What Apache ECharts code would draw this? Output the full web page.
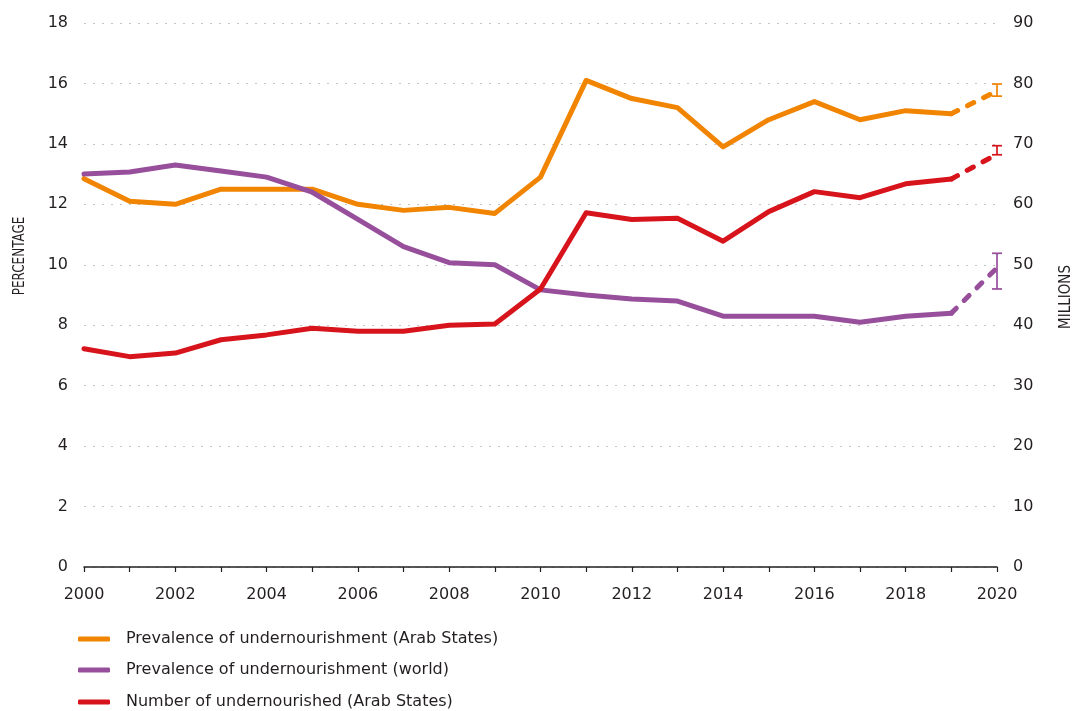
<!DOCTYPE html>
<html>
<head>
<meta charset="utf-8">
<script src="https://cdn.jsdelivr.net/npm/echarts@6/dist/echarts.min.js"></script>
<style>
  html, body { margin: 0; padding: 0; background: #fff; }
  #chart { width: 1075px; height: 711px; }
</style>
</head>
<body>
<div id="chart"></div>
<script>
// years on the x axis
var years = ['2000','2001','2002','2003','2004','2005','2006','2007','2008','2009','2010',
             '2011','2012','2013','2014','2015','2016','2017','2018','2019','2020'];

// prevalence of undernourishment, Arab States (%), 2000-2019 measured, 2019-2020 projected
var arabPrev = [12.85, 12.1, 12.0, 12.5, 12.5, 12.5, 12.0, 11.8, 11.9, 11.7, 12.9,
                16.1, 15.5, 15.2, 13.9, 14.8, 15.4, 14.8, 15.1, 15.0];
var arabPrevProj = [15.0, 15.75];

// prevalence of undernourishment, world (%)
var worldPrev = [13.0, 13.07, 13.3, 13.1, 12.9, 12.4, 11.5, 10.6, 10.07, 10.0, 9.17,
                 9.0, 8.87, 8.8, 8.3, 8.3, 8.3, 8.1, 8.3, 8.4];
var worldPrevProj = [8.4, 9.9];

// number of undernourished, Arab States (millions)
var arabNum = [36.1, 34.8, 35.4, 37.6, 38.4, 39.5, 39.0, 39.0, 40.0, 40.2, 46.0,
               58.6, 57.5, 57.7, 53.9, 58.8, 62.1, 61.1, 63.4, 64.2];
var arabNumProj = [64.2, 68.3];

// 2020 ranges [low, high]
var arabPrevRange = [15.58, 15.98];
var worldPrevRange = [9.2, 10.38];
var arabNumRange = [68.2, 69.7];

var names = ['Prevalence of undernourishment (Arab States)',
             'Prevalence of undernourishment (world)',
             'Number of undernourished (Arab States)'];

var cOrange = '#F18400', cPurple = '#974F9C', cRed = '#D7141C';
var font = 'DejaVu Sans';
var ink = '#231f20';

// pad projection arrays so they sit at the end of the axis
function proj(vals) {
    var out = [];
    for (var i = 0; i < years.length - vals.length; i++) out.push('-');
    return out.concat(vals);
}

function lineSeries(name, data, color, axis, dashed) {
    return {
        name: name,
        type: 'line',
        yAxisIndex: axis,
        data: data,
        symbol: 'none',
        lineStyle: { color: color, width: 5, type: dashed ? [7, 11] : 'solid', cap: 'round', join: 'round' },
        itemStyle: { color: color },
        z: 3
    };
}

function errorSeries(range, color, axis) {
    return {
        type: 'custom',
        yAxisIndex: axis,
        data: [[years.length - 1, range[0], range[1]]],
        renderItem: function (params, api) {
            var lo = api.coord([api.value(0), api.value(1)]);
            var hi = api.coord([api.value(0), api.value(2)]);
            var w = 5;
            var st = { stroke: color, lineWidth: 1.7 };
            return {
                type: 'group',
                children: [
                    { type: 'line', shape: { x1: lo[0], y1: lo[1], x2: hi[0], y2: hi[1] }, style: st },
                    { type: 'line', shape: { x1: lo[0] - w, y1: lo[1], x2: lo[0] + w, y2: lo[1] }, style: st },
                    { type: 'line', shape: { x1: hi[0] - w, y1: hi[1], x2: hi[0] + w, y2: hi[1] }, style: st }
                ]
            };
        },
        z: 4,
        silent: true
    };
}

// one legend block per row, stacked
function legendRow(name, top) {
    return {
        data: [name],
        orient: 'vertical',
        left: 78,
        top: top,
        padding: 0,
        itemWidth: 32,
        itemHeight: 5,
        icon: 'roundRect',
        selectedMode: false,
        textStyle: { fontFamily: font, fontSize: 16, color: ink, padding: [0, 0, 0, 11] }
    };
}

var myChart = echarts.init(document.getElementById('chart'));

var option = {
    animation: false,
    textStyle: { fontFamily: font },
    grid: { left: 84, right: 78, top: 23, bottom: 144, containLabel: false, outerBoundsMode: 'none' },
    legend: [
        legendRow(names[0], 631),
        legendRow(names[1], 662),
        legendRow(names[2], 694)
    ],
    graphic: [{
        type: 'text',
        x: 20, y: 256,
        rotation: Math.PI / 2,
        scaleX: 0.89,
        style: { text: 'PERCENTAGE', font: '15px "DejaVu Sans Condensed"', fill: ink, align: 'center', verticalAlign: 'middle' }
    }, {
        type: 'text',
        x: 1066, y: 297,
        rotation: Math.PI / 2,
        style: { text: 'MILLIONS', font: '15px "DejaVu Sans Condensed"', fill: ink, align: 'center', verticalAlign: 'middle' }
    }],
    xAxis: {
        type: 'category',
        data: years,
        boundaryGap: false,
        axisLine: { lineStyle: { color: ink, width: 1.5 } },
        axisTick: { interval: 0, length: 5, lineStyle: { color: ink, width: 1.2 } },
        axisLabel: { interval: 1, margin: 20, fontSize: 16, color: ink, fontFamily: font },
        splitLine: { show: false }
    },
    yAxis: [{
        type: 'value',
        min: 0, max: 18, interval: 2,
        axisLine: { show: false },
        axisTick: { show: false },
        axisLabel: { margin: 16, fontSize: 16, color: ink, fontFamily: font },
        splitLine: { lineStyle: { color: '#c4c4c4', type: [2, 7], width: 1 } }
    }, {
        type: 'value',
        min: 0, max: 90, interval: 10,
        axisLine: { show: false },
        axisTick: { show: false },
        axisLabel: { margin: 16, fontSize: 16, color: ink, fontFamily: font },
        splitLine: { show: false }
    }],
    series: [
        lineSeries(names[0], arabPrev, cOrange, 0, false),
        lineSeries(names[1], worldPrev, cPurple, 0, false),
        lineSeries(names[2], arabNum, cRed, 1, false),
        lineSeries('arabPrevProj', proj(arabPrevProj), cOrange, 0, true),
        lineSeries('worldPrevProj', proj(worldPrevProj), cPurple, 0, true),
        lineSeries('arabNumProj', proj(arabNumProj), cRed, 1, true),
        errorSeries(arabPrevRange, cOrange, 0),
        errorSeries(worldPrevRange, cPurple, 0),
        errorSeries(arabNumRange, cRed, 1)
    ]
};

myChart.setOption(option);
</script>
</body>
</html>
